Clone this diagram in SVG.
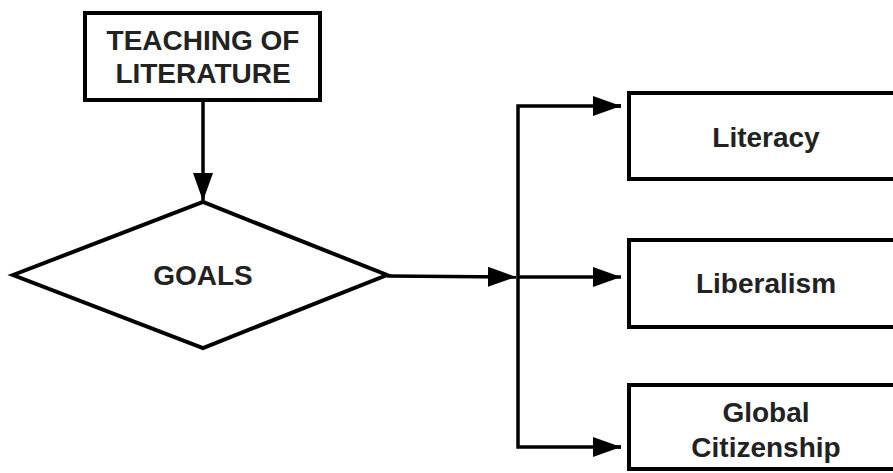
<svg xmlns="http://www.w3.org/2000/svg" width="893" height="473" viewBox="0 0 893 473">
<style>
.box{fill:#fff;stroke:#000;stroke-width:4}
.ln{fill:none;stroke:#000;stroke-width:3.5}
.t{font-family:"Liberation Sans",Arial,sans-serif;font-weight:bold;font-size:28px;fill:#222;text-anchor:middle}
</style>
<defs>
<marker id="ah" viewBox="0 0 28 20" refX="28" refY="10" markerWidth="28" markerHeight="20" markerUnits="userSpaceOnUse" orient="auto">
<path d="M0,0 L28,10 L0,20 Z" fill="#000"/>
</marker>
</defs>
<rect width="893" height="473" fill="#fff"/>
<g id="connectors">
<line class="ln" x1="203" y1="100" x2="203" y2="201" marker-end="url(#ah)"/>
<line class="ln" x1="387" y1="276" x2="516" y2="277" marker-end="url(#ah)"/>
<polyline class="ln" points="621,106 518,106 518,447 621,447"/>
<line class="ln" x1="594" y1="106" x2="621" y2="106" marker-end="url(#ah)"/>
<line class="ln" x1="518" y1="277" x2="621" y2="277" marker-end="url(#ah)"/>
<line class="ln" x1="594" y1="447" x2="621" y2="447" marker-end="url(#ah)"/>
</g>
<g id="teaching">
<rect class="box" x="85" y="13" width="235" height="87"/>
<text class="t" x="203" y="50">TEACHING OF</text>
<text class="t" x="203" y="83">LITERATURE</text>
</g>
<g id="goals">
<polygon class="box" points="13,275 203,202 387,275 203,348"/>
<text class="t" x="203" y="285">GOALS</text>
</g>
<g id="literacy">
<rect class="box" x="629" y="93" width="280" height="86"/>
<text class="t" x="766" y="147">Literacy</text>
</g>
<g id="liberalism">
<rect class="box" x="629" y="240" width="280" height="87"/>
<text class="t" x="766" y="293">Liberalism</text>
</g>
<g id="global">
<rect class="box" x="629" y="385" width="280" height="84"/>
<text class="t" x="766" y="422">Global</text>
<text class="t" x="766" y="457">Citizenship</text>
</g>
</svg>
